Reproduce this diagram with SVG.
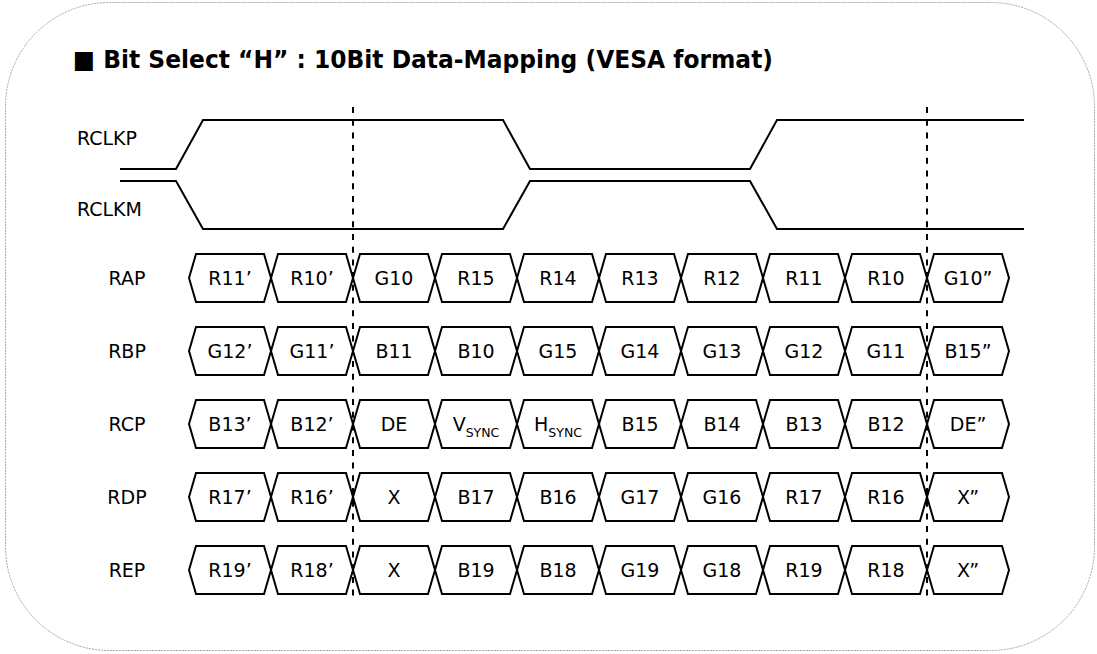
<svg xmlns="http://www.w3.org/2000/svg" xmlns:xlink="http://www.w3.org/1999/xlink" width="1097" height="654" viewBox="0 0 1097 654">
<style>
.frame{fill:#fff;stroke:#a8a8a8;stroke-width:1;stroke-dasharray:2 1}
.title{font-family:"DejaVu Sans","Liberation Sans",sans-serif;font-weight:bold;font-size:25px;fill:#000}
.lbl{font-family:"DejaVu Sans","Liberation Sans",sans-serif;font-size:19px;fill:#000}
.cell{font-family:"DejaVu Sans","Liberation Sans",sans-serif;font-size:19px;fill:#000;text-anchor:middle}
.sub{font-size:12.5px}
.wave{fill:none;stroke:#000;stroke-width:2;stroke-linejoin:miter}
.hex{fill:#fff;stroke:#000;stroke-width:2;stroke-linejoin:miter}
.dash{stroke:#000;stroke-width:2;stroke-dasharray:6 6.7;fill:none}
</style>
<defs>
<polygon id="hex" class="hex" points="0,0 7,-24 75,-24 82,0 75,24 7,24"/>
</defs>
<rect class="frame" x="5.5" y="2.5" width="1089" height="648" rx="104" ry="104"/>
<text class="title" x="73" y="68" textLength="700" lengthAdjust="spacingAndGlyphs">■ Bit Select “H” : 10Bit Data-Mapping (VESA format)</text>

<g id="signals">
<g id="rclkp">
<text class="lbl" x="77" y="145">RCLKP</text>
<polyline class="wave" points="120,169 176,169 203,120 503,120 530,169 750,169 777,120 1024,120"/>
</g>
<g id="rclkm">
<text class="lbl" x="77" y="216">RCLKM</text>
<polyline class="wave" points="120,181 176,181 203,229 503,229 530,181 750,181 777,229 1024,229"/>
</g>
</g>

<g id="row-rap">
<text class="cell" x="127" y="285">RAP</text>
<use xlink:href="#hex" x="189" y="278"/><use xlink:href="#hex" x="271" y="278"/><use xlink:href="#hex" x="353" y="278"/><use xlink:href="#hex" x="435" y="278"/><use xlink:href="#hex" x="517" y="278"/><use xlink:href="#hex" x="599" y="278"/><use xlink:href="#hex" x="681" y="278"/><use xlink:href="#hex" x="763" y="278"/><use xlink:href="#hex" x="845" y="278"/><use xlink:href="#hex" x="927" y="278"/>
<text class="cell" x="230" y="285">R11’</text><text class="cell" x="312" y="285">R10’</text><text class="cell" x="394" y="285">G10</text><text class="cell" x="476" y="285">R15</text><text class="cell" x="558" y="285">R14</text><text class="cell" x="640" y="285">R13</text><text class="cell" x="722" y="285">R12</text><text class="cell" x="804" y="285">R11</text><text class="cell" x="886" y="285">R10</text><text class="cell" x="968" y="285">G10”</text>
</g>

<g id="row-rbp">
<text class="cell" x="127" y="358">RBP</text>
<use xlink:href="#hex" x="189" y="351"/><use xlink:href="#hex" x="271" y="351"/><use xlink:href="#hex" x="353" y="351"/><use xlink:href="#hex" x="435" y="351"/><use xlink:href="#hex" x="517" y="351"/><use xlink:href="#hex" x="599" y="351"/><use xlink:href="#hex" x="681" y="351"/><use xlink:href="#hex" x="763" y="351"/><use xlink:href="#hex" x="845" y="351"/><use xlink:href="#hex" x="927" y="351"/>
<text class="cell" x="230" y="358">G12’</text><text class="cell" x="312" y="358">G11’</text><text class="cell" x="394" y="358">B11</text><text class="cell" x="476" y="358">B10</text><text class="cell" x="558" y="358">G15</text><text class="cell" x="640" y="358">G14</text><text class="cell" x="722" y="358">G13</text><text class="cell" x="804" y="358">G12</text><text class="cell" x="886" y="358">G11</text><text class="cell" x="968" y="358">B15”</text>
</g>

<g id="row-rcp">
<text class="cell" x="127" y="431">RCP</text>
<use xlink:href="#hex" x="189" y="424"/><use xlink:href="#hex" x="271" y="424"/><use xlink:href="#hex" x="353" y="424"/><use xlink:href="#hex" x="435" y="424"/><use xlink:href="#hex" x="517" y="424"/><use xlink:href="#hex" x="599" y="424"/><use xlink:href="#hex" x="681" y="424"/><use xlink:href="#hex" x="763" y="424"/><use xlink:href="#hex" x="845" y="424"/><use xlink:href="#hex" x="927" y="424"/>
<text class="cell" x="230" y="431">B13’</text><text class="cell" x="312" y="431">B12’</text><text class="cell" x="394" y="431">DE</text><text class="cell" x="476" y="431">V<tspan class="sub" dy="5.5">SYNC</tspan></text><text class="cell" x="558" y="431">H<tspan class="sub" dy="5.5">SYNC</tspan></text><text class="cell" x="640" y="431">B15</text><text class="cell" x="722" y="431">B14</text><text class="cell" x="804" y="431">B13</text><text class="cell" x="886" y="431">B12</text><text class="cell" x="968" y="431">DE”</text>
</g>

<g id="row-rdp">
<text class="cell" x="127" y="504">RDP</text>
<use xlink:href="#hex" x="189" y="497"/><use xlink:href="#hex" x="271" y="497"/><use xlink:href="#hex" x="353" y="497"/><use xlink:href="#hex" x="435" y="497"/><use xlink:href="#hex" x="517" y="497"/><use xlink:href="#hex" x="599" y="497"/><use xlink:href="#hex" x="681" y="497"/><use xlink:href="#hex" x="763" y="497"/><use xlink:href="#hex" x="845" y="497"/><use xlink:href="#hex" x="927" y="497"/>
<text class="cell" x="230" y="504">R17’</text><text class="cell" x="312" y="504">R16’</text><text class="cell" x="394" y="504">X</text><text class="cell" x="476" y="504">B17</text><text class="cell" x="558" y="504">B16</text><text class="cell" x="640" y="504">G17</text><text class="cell" x="722" y="504">G16</text><text class="cell" x="804" y="504">R17</text><text class="cell" x="886" y="504">R16</text><text class="cell" x="968" y="504">X”</text>
</g>

<g id="row-rep">
<text class="cell" x="127" y="577">REP</text>
<use xlink:href="#hex" x="189" y="570"/><use xlink:href="#hex" x="271" y="570"/><use xlink:href="#hex" x="353" y="570"/><use xlink:href="#hex" x="435" y="570"/><use xlink:href="#hex" x="517" y="570"/><use xlink:href="#hex" x="599" y="570"/><use xlink:href="#hex" x="681" y="570"/><use xlink:href="#hex" x="763" y="570"/><use xlink:href="#hex" x="845" y="570"/><use xlink:href="#hex" x="927" y="570"/>
<text class="cell" x="230" y="577">R19’</text><text class="cell" x="312" y="577">R18’</text><text class="cell" x="394" y="577">X</text><text class="cell" x="476" y="577">B19</text><text class="cell" x="558" y="577">B18</text><text class="cell" x="640" y="577">G19</text><text class="cell" x="722" y="577">G18</text><text class="cell" x="804" y="577">R19</text><text class="cell" x="886" y="577">R18</text><text class="cell" x="968" y="577">X”</text>
</g>

<g id="connectors">
<line class="dash" x1="353" y1="107" x2="353" y2="596"/>
<line class="dash" x1="927" y1="107" x2="927" y2="596"/>
</g>
</svg>
